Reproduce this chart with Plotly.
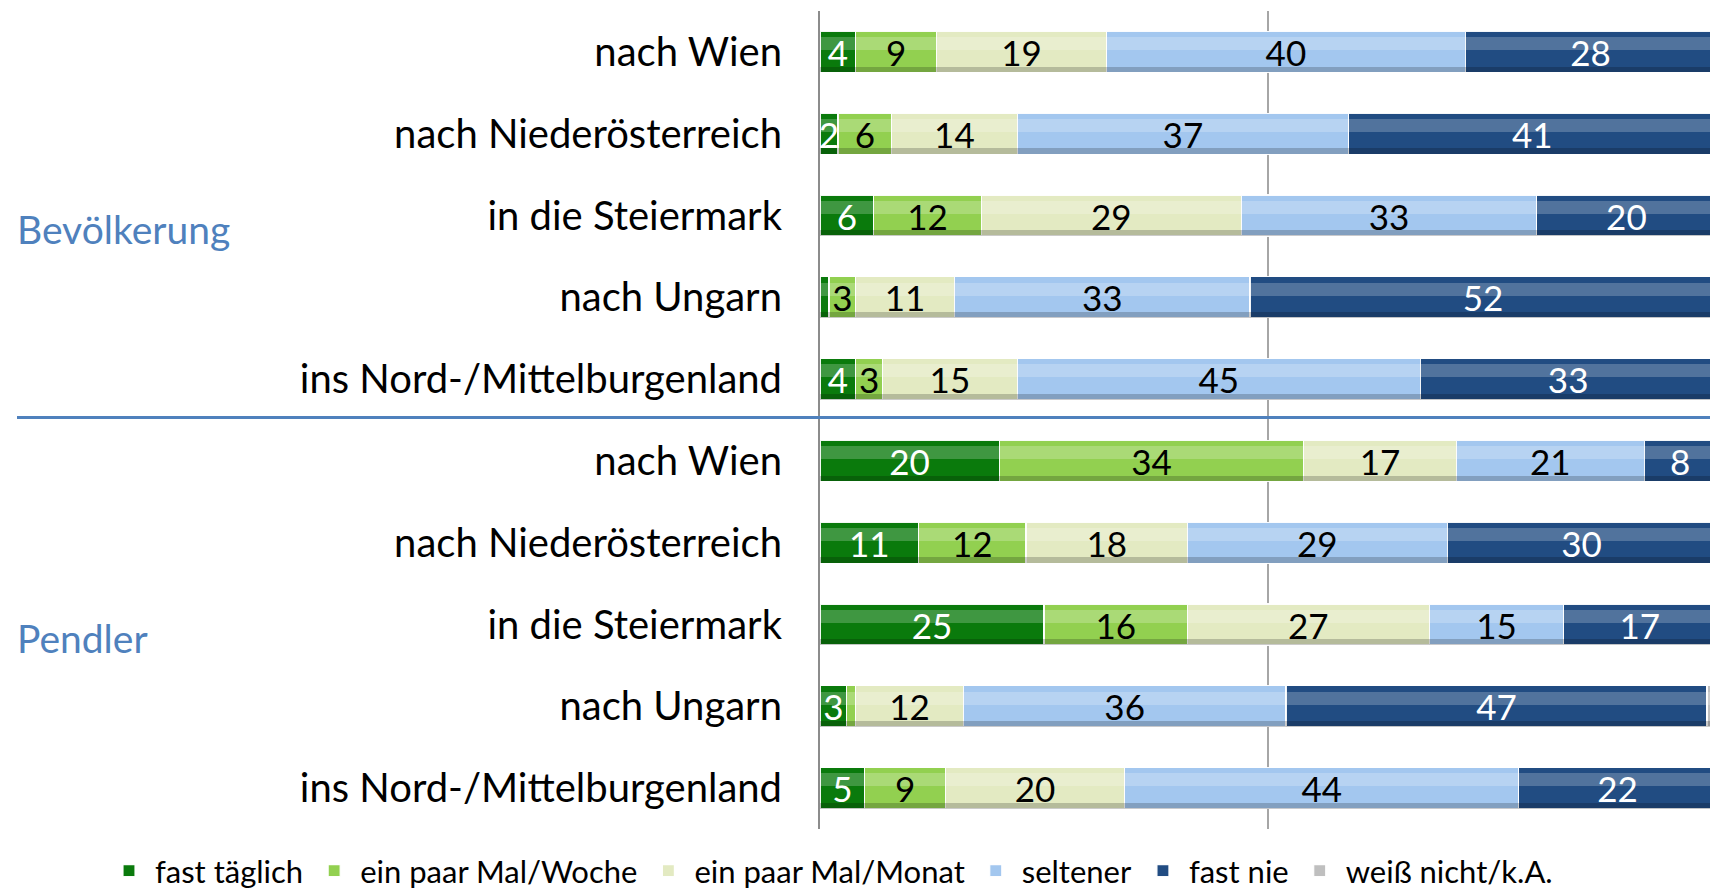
import plotly.graph_objects as go

# ---- data ----
row_labels = [
    "nach Wien", "nach Niederösterreich", "in die Steiermark", "nach Ungarn",
    "ins Nord-/Mittelburgenland",
    "nach Wien", "nach Niederösterreich", "in die Steiermark", "nach Ungarn",
    "ins Nord-/Mittelburgenland",
]
group_labels = ["Bevölkerung", "Pendler"]

series_names = ["fast täglich", "ein paar Mal/Woche", "ein paar Mal/Monat",
                "seltener", "fast nie", "weiß nicht/k.A."]

fast_taeglich = [4, 2, 6, 1, 4, 20, 11, 25, 3, 5]
paar_woche = [9, 6, 12, 3, 3, 34, 12, 16, 1, 9]
paar_monat = [19, 14, 29, 11, 15, 17, 18, 27, 12, 20]
seltener = [40, 37, 33, 33, 45, 21, 29, 15, 36, 44]
fast_nie = [28, 41, 20, 52, 33, 8, 30, 17, 47, 22]
weiss_nicht = [0, 0, 0, 0, 0, 0, 0, 0, 1, 0]

series_values = [fast_taeglich, paar_woche, paar_monat, seltener, fast_nie, weiss_nicht]

# ---- style ----
fill_colors = ["#0a7a0c", "#92d050", "#e3eac2", "#a3c7ef", "#214c82", "#bfbfbf"]
text_colors = ["white", "black", "black", "black", "white", "black"]
FONT = "Lato, Carlito, Calibri, sans-serif"
X_RANGE = [0, 99.33]

positions = list(range(len(row_labels)))

fig = go.Figure()
# base coloured bars (legend)
for name, vals, fc in zip(series_names, series_values, fill_colors):
    fig.add_trace(go.Bar(
        name=name, y=positions, x=vals, orientation="h",
        marker=dict(color=fc, line=dict(color="rgba(255,255,255,0.95)", width=1.2)),
        hoverinfo="skip", xaxis="x",
    ))
# cylinder shine: highlight band and bottom shadow (same data, overlay axes)
for vals in series_values:
    fig.add_trace(go.Bar(
        y=positions, x=vals, orientation="h", width=0.16, offset=-0.18,
        marker=dict(color="rgba(255,255,255,0.22)", line=dict(width=0)),
        showlegend=False, hoverinfo="skip", xaxis="x2",
    ))
for vals in series_values:
    fig.add_trace(go.Bar(
        y=positions, x=vals, orientation="h", width=0.07, offset=0.18,
        marker=dict(color="rgba(0,0,0,0.2)", line=dict(width=0)),
        showlegend=False, hoverinfo="skip", xaxis="x3",
    ))
# value labels
for vals, tc in zip(series_values, text_colors):
    labels = [str(v) if v >= 2 else "" for v in vals]
    fig.add_trace(go.Bar(
        y=positions, x=vals, orientation="h",
        marker=dict(color="rgba(0,0,0,0)", line=dict(width=0)),
        text=labels, textposition="inside", insidetextanchor="middle",
        textangle=0, constraintext="none",
        textfont=dict(family=FONT, size=35, color=tc),
        showlegend=False, hoverinfo="skip", xaxis="x4",
    ))

hidden_x = dict(range=X_RANGE, overlaying="x", visible=False, fixedrange=True)

fig.update_layout(
    barmode="stack",
    bargap=0.5,
    width=1710,
    height=894,
    margin=dict(l=820, r=0, t=11, b=65, autoexpand=False),
    paper_bgcolor="white",
    plot_bgcolor="white",
    font=dict(family=FONT, size=35, color="black"),
    uniformtext=dict(minsize=35, mode="show"),
    showlegend=True,
    legend=dict(
        orientation="h",
        x=(103 - 820) / 890, xanchor="left",
        y=-(871 - 829) / 818, yanchor="middle",
        font=dict(family=FONT, size=31, color="black"),
        itemwidth=42,
        traceorder="normal",
    ),
    xaxis=dict(
        range=X_RANGE,
        tickvals=[0, 50, 100],
        showticklabels=False,
        showgrid=True,
        gridcolor="#a6a6a6",
        gridwidth=1.5,
        zeroline=False,
        fixedrange=True,
    ),
    xaxis2=hidden_x,
    xaxis3=hidden_x,
    xaxis4=hidden_x,
    yaxis=dict(
        range=[9.5, -0.5],
        tickvals=positions,
        ticktext=row_labels,
        tickfont=dict(family=FONT, size=40, color="black"),
        ticks="",
        ticklabelstandoff=28,
        showline=True,
        linecolor="#8c8c8c",
        linewidth=2,
        showgrid=False,
        zeroline=False,
        fixedrange=True,
    ),
)

# separator between groups
fig.add_shape(type="line", xref="paper", yref="y",
              x0=(17 - 820) / 890, x1=1.0, y0=4.47, y1=4.47,
              line=dict(color="#4f81bd", width=3), layer="above")

# group labels
for lbl, ypos in zip(group_labels, [2.17, 7.16]):
    fig.add_annotation(text=lbl, xref="paper", yref="y",
                       x=(15 - 820) / 890, y=ypos, xanchor="left", yanchor="middle",
                       showarrow=False,
                       font=dict(family=FONT, size=39, color="#4f81bd"))

fig.write_html("out.html", config={"displayModeBar": False},
               post_script="document.body.style.margin='0';")
